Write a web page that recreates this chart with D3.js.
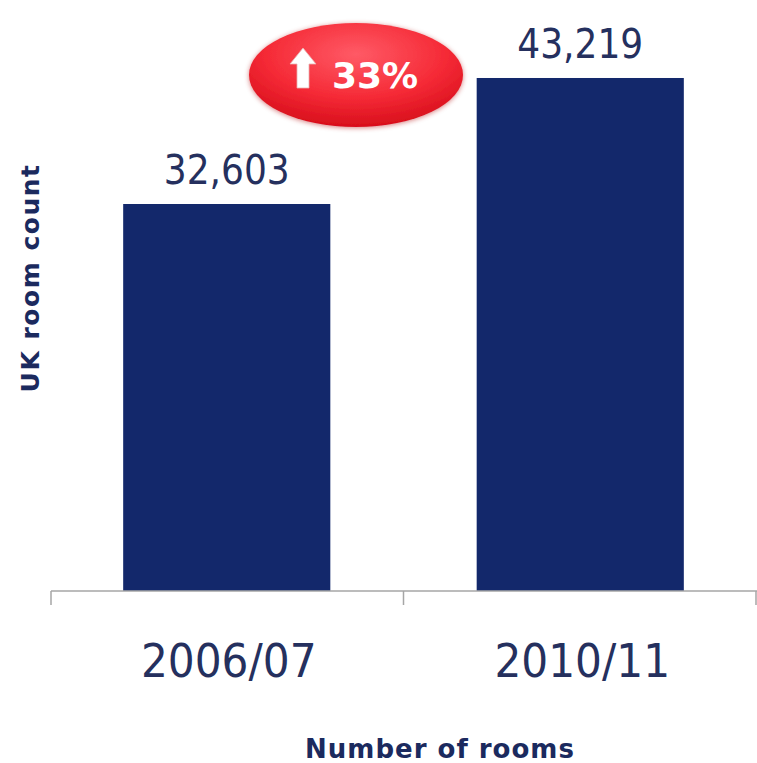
<!DOCTYPE html>
<html>
<head>
<meta charset="utf-8">
<script src="https://cdn.jsdelivr.net/npm/d3@7"></script>
<style>
  html, body { margin: 0; padding: 0; background: #ffffff; }
  svg { display: block; }
</style>
</head>
<body>
<svg id="chart" width="757" height="763"></svg>
<script>
// UK room count by year
const categories = ["2006/07", "2010/11"];
const roomCounts = [32603, 43219];
const growthLabel = "33%";
const yTitle = "UK room count";
const xTitle = "Number of rooms";

const W = 757, H = 763;
const svg = d3.select("#chart");

const x = d3.scaleBand()
  .domain(categories)
  .range([50, 757])
  .paddingInner(0.414)
  .paddingOuter(0.207);

const y = d3.scaleLinear()
  .domain([0, 50000])
  .range([591, -2.5]);

const fmt = d3.format(",");
const navy = "#13286b";
const textNavy = "#25305e";
const labelFont = "'DejaVu Sans Condensed', 'DejaVu Sans', sans-serif";
const titleFont = "'DejaVu Sans', Verdana, sans-serif";

// Gradient for the growth badge
const defs = svg.append("defs");
const grad = defs.append("radialGradient")
  .attr("id", "badgeGrad")
  .attr("cx", "50%").attr("cy", "30%").attr("r", "70%");
grad.append("stop").attr("offset", "0%").attr("stop-color", "#ff5a66");
grad.append("stop").attr("offset", "60%").attr("stop-color", "#f52a36");
grad.append("stop").attr("offset", "100%").attr("stop-color", "#d80f1c");
const shadow = defs.append("filter").attr("id", "badgeShadow")
  .attr("x", "-20%").attr("y", "-20%").attr("width", "140%").attr("height", "140%");
shadow.append("feGaussianBlur").attr("in", "SourceAlpha").attr("stdDeviation", 2.5);
shadow.append("feOffset").attr("dx", 0).attr("dy", 1).attr("result", "b");
shadow.append("feFlood").attr("flood-color", "#b0000a").attr("flood-opacity", 0.5);
shadow.append("feComposite").attr("in2", "b").attr("operator", "in");
const mrg = shadow.append("feMerge");
mrg.append("feMergeNode");
mrg.append("feMergeNode").attr("in", "SourceGraphic");

// Bars
svg.append("g").selectAll("rect")
  .data(roomCounts)
  .join("rect")
  .attr("x", (d, i) => x(categories[i]))
  .attr("y", d => y(d))
  .attr("width", x.bandwidth())
  .attr("height", d => y(0) - y(d))
  .attr("fill", navy);

// Value labels
svg.append("g").selectAll("text")
  .data(roomCounts)
  .join("text")
  .attr("x", (d, i) => x(categories[i]) + x.bandwidth() / 2)
  .attr("y", d => y(d) - 20)
  .attr("text-anchor", "middle")
  .attr("font-family", labelFont)
  .attr("font-size", 40)
  .attr("fill", textNavy)
  .text(d => fmt(d));

// X axis line with ticks at band boundaries
const axisY = y(0);
const axis = svg.append("g").attr("stroke", "#a6a6a6").attr("stroke-width", 1.5).attr("fill", "none");
axis.append("line").attr("x1", 51).attr("x2", 757).attr("y1", axisY).attr("y2", axisY);
const boundaries = [51, (x(categories[0]) + x.bandwidth() + x(categories[1])) / 2, 756];
axis.selectAll("line.tick")
  .data(boundaries)
  .join("line")
  .attr("class", "tick")
  .attr("x1", d => d).attr("x2", d => d)
  .attr("y1", axisY).attr("y2", axisY + 14);

// Category labels
svg.append("g").selectAll("text")
  .data(categories)
  .join("text")
  .attr("x", d => x(d) + x.bandwidth() / 2 + 2)
  .attr("y", 677)
  .attr("text-anchor", "middle")
  .attr("font-family", labelFont)
  .attr("font-size", 47)
  .attr("fill", textNavy)
  .text(d => d);

// Axis titles
svg.append("text")
  .attr("x", 440)
  .attr("y", 758)
  .attr("text-anchor", "middle")
  .attr("font-family", titleFont)
  .attr("font-weight", "bold")
  .attr("font-size", 26)
  .attr("letter-spacing", 1)
  .attr("fill", "#1b2a5e")
  .text(xTitle);

svg.append("text")
  .attr("transform", "translate(39,278) rotate(-90)")
  .attr("text-anchor", "middle")
  .attr("font-family", titleFont)
  .attr("font-weight", "bold")
  .attr("font-size", 25)
  .attr("letter-spacing", 1.5)
  .attr("fill", "#1b2a5e")
  .text(yTitle);

// Growth badge
const badge = svg.append("g").attr("transform", "translate(356,75)");
badge.append("ellipse")
  .attr("rx", 107).attr("ry", 52)
  .attr("fill", "url(#badgeGrad)")
  .attr("filter", "url(#badgeShadow)");
badge.append("path")
  .attr("d", "M -53 -27 L -40 -11 L -47 -11 L -47 13 L -59 13 L -59 -11 L -66 -11 Z")
  .attr("fill", "#ffffff")
  .attr("stroke", "#e8b0b0")
  .attr("stroke-width", 0.8);
badge.append("text")
  .attr("x", -24)
  .attr("y", 13)
  .attr("font-family", titleFont)
  .attr("font-weight", "bold")
  .attr("font-size", 36)
  .attr("fill", "#ffffff")
  .text(growthLabel);
</script>
</body>
</html>
